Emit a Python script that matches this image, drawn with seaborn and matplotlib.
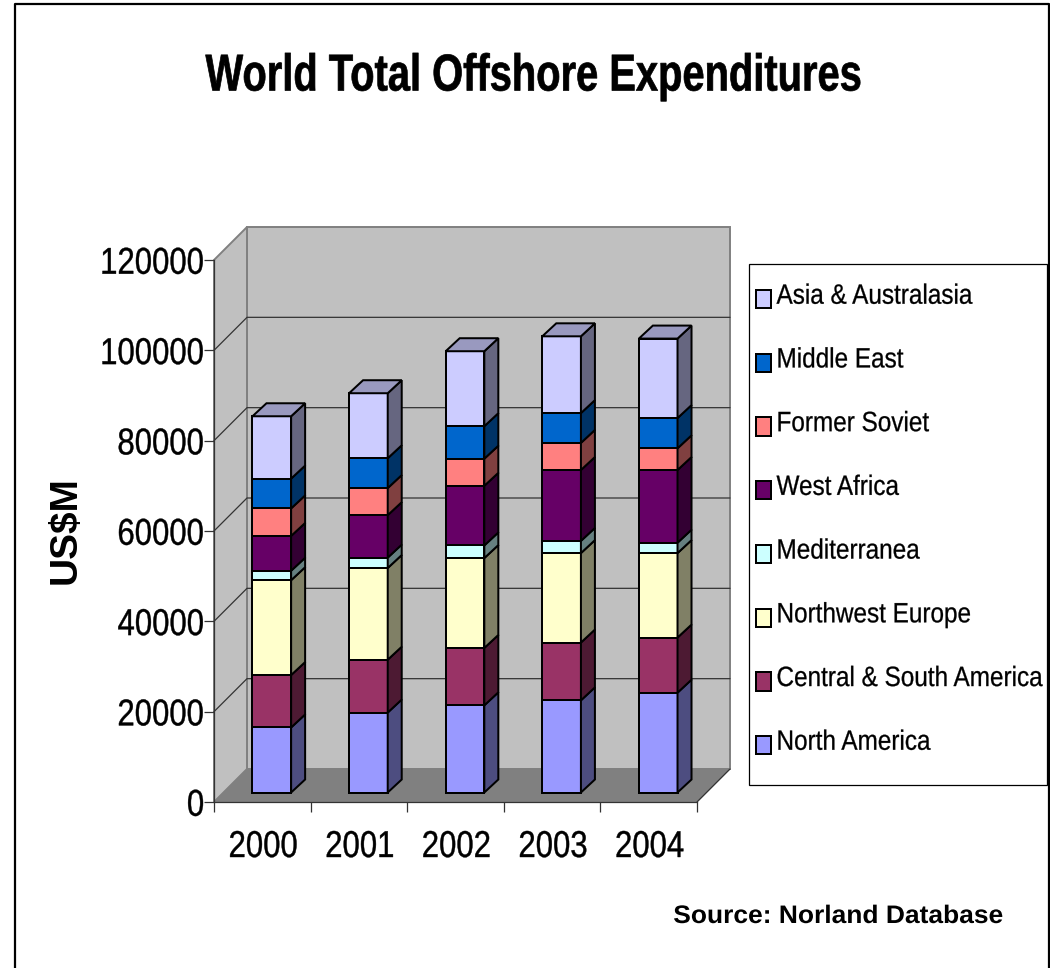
import matplotlib
matplotlib.use("Agg")
import matplotlib.pyplot as plt
import numpy as np
import pandas as pd
import seaborn as sns
from matplotlib.patches import Patch, Polygon, Rectangle
from matplotlib.lines import Line2D
from matplotlib.patheffects import AbstractPathEffect
from matplotlib.transforms import Affine2D, IdentityTransform

years = ["2000", "2001", "2002", "2003", "2004"]
north_america = [14400, 17700, 19300, 20400, 22100]
central_south_america = [11600, 11700, 12700, 12800, 12200]
northwest_europe = [21000, 20300, 19900, 19800, 18700]
mediterranea = [2100, 2300, 2800, 2700, 2300]
west_africa = [7700, 9400, 13200, 15700, 16100]
former_soviet = [6100, 6000, 6000, 6000, 4800]
middle_east = [6600, 6600, 7200, 6600, 6700]
asia_australasia = [13800, 14400, 16600, 17000, 17600]

series_names = ["North America", "Central & South America", "Northwest Europe",
                "Mediterranea", "West Africa", "Former Soviet", "Middle East",
                "Asia & Australasia"]
series_values = [north_america, central_south_america, northwest_europe,
                 mediterranea, west_africa, former_soviet, middle_east,
                 asia_australasia]
series_colors = ["#9999FF", "#993366", "#FFFFCC", "#CCFFFF",
                 "#660066", "#FF8080", "#0066CC", "#CCCCFF"]
y_ticks = [0, 20000, 40000, 60000, 80000, 100000, 120000]

W, H = 1050, 968
WALL_DEPTH = 33      # px offset of the back wall
BAR_INSET = 9.5      # px offset of the bar fronts from the front plane
BAR_DEPTH = (14, 13) # px extrusion of each bar
EDGE = 1.44


class TallText(AbstractPathEffect):
    """Stretch glyphs vertically, giving the tightly set, condensed look.

    Glyph paths use 100 units per em, so pivot and lift are given in em.
    """

    def __init__(self, stretch, pivot=0.0, lift=0.0, weight=0.0):
        super().__init__()
        self.stretch = stretch
        self.pivot = pivot * 100
        self.lift = lift * 100
        self.weight = weight

    def draw_path(self, renderer, gc, tpath, affine, rgbFace=None):
        local = (Affine2D().translate(0, -self.pivot).scale(1, self.stretch)
                 .translate(0, self.pivot + self.lift))
        gc0 = renderer.new_gc()
        gc0.copy_properties(gc)
        if self.weight:
            gc0.set_foreground(rgbFace)
            gc0.set_linewidth(self.weight)
        renderer.draw_path(gc0, tpath, local + affine, rgbFace)
        gc0.restore()


sns.set_theme(style="white", rc={"text.color": "black", "axes.labelcolor": "black",
                                 "xtick.color": "black", "ytick.color": "black"})
plt.rcParams["font.family"] = ["Liberation Sans", "DejaVu Sans"]

fig = plt.figure(figsize=(W / 100, H / 100), dpi=100, facecolor="white")
ax = fig.add_axes([214 / W, (H - 802) / H, (697 - 214) / W, (802 - 260) / H])
ax.set_facecolor("none")


def shade(color, factor):
    r, g, b = matplotlib.colors.to_rgb(color)
    return (r * factor, g * factor, b * factor)


# Stacked front faces
bottom = np.zeros(len(years))
frames = []
for name, vals in zip(series_names, series_values):
    frames.append(pd.DataFrame({"year": years, "value": vals}))
front_tr = ax.transData + Affine2D().translate(BAR_INSET, BAR_INSET)
for frame, color in zip(frames, series_colors):
    n_before = len(ax.patches)
    sns.barplot(data=frame, x="year", y="value", bottom=bottom, color=color,
                saturation=1, width=0.4, edgecolor="black", linewidth=EDGE,
                ax=ax, zorder=3)
    for patch in ax.patches[n_before:]:
        patch.set_transform(front_tr)
        patch.set_clip_on(False)
    bottom = bottom + frame["value"].to_numpy()

ax.set_xlim(-0.5, 4.5)
ax.set_ylim(0, 120000)
ax.set_xticks(np.arange(-0.5, 5, 1))
ax.set_xticklabels([])
ax.set_yticks(y_ticks)
ax.set_xlabel("")
ax.set_ylabel("")
ax.tick_params(axis="y", left=True, length=7, width=0.9, color="#333333",
               labelsize=22.4, pad=0, labelcolor="black")
ax.tick_params(axis="x", bottom=True, length=7, width=0.9, color="#333333")
for tick_label in ax.get_yticklabels():
    tick_label.set_path_effects([TallText(1.2, pivot=0.36, weight=0.3)])
for i, lbl in enumerate(years):
    ax.annotate(lbl, xy=(i, 0), xycoords="data", xytext=(1, -55),
                textcoords="offset pixels", ha="center", va="baseline",
                fontsize=22.4, annotation_clip=False,
                path_effects=[TallText(1.2, weight=0.3)])
for side in ("top", "right"):
    ax.spines[side].set_visible(False)
for side in ("left", "bottom"):
    ax.spines[side].set_linewidth(0.9)
    ax.spines[side].set_color("#333333")

fig.canvas.draw()

# Chart walls and floor, offset from the front plane by the depth
back_tr = ax.transData + Affine2D().translate(WALL_DEPTH, WALL_DEPTH)
to_front = ax.transData.transform
to_back = back_tr.transform
x0, x1 = -0.5, 4.5
ymax = y_ticks[-1]


def px_poly(points, **kw):
    ax.add_patch(Polygon(points, closed=True, transform=IdentityTransform(),
                         clip_on=False, **kw))


wall_grey, edge_grey = "#C0C0C0", "#808080"
px_poly(np.vstack([to_back([(x0, 0), (x1, 0), (x1, ymax), (x0, ymax)])]),
        facecolor=wall_grey, edgecolor=edge_grey, linewidth=1.4, zorder=0.5)
px_poly(np.vstack([to_front([(x0, 0), (x0, ymax)]), to_back([(x0, ymax), (x0, 0)])]),
        facecolor=wall_grey, edgecolor=edge_grey, linewidth=1.4, zorder=0.5)
px_poly(np.vstack([to_front([(x0, 0), (x1, 0)]), to_back([(x1, 0), (x0, 0)])]),
        facecolor=edge_grey, edgecolor=edge_grey, linewidth=0.5, zorder=0.6)

for v in y_ticks[1:-1]:
    f = to_front((x0, v))
    b0, b1 = to_back([(x0, v), (x1, v)])
    ax.add_line(Line2D([f[0], b0[0], b1[0]], [f[1], b0[1], b1[1]],
                       transform=IdentityTransform(), color="#333333",
                       lw=0.9, clip_on=False, zorder=0.7))
f = to_front((x1, 0))
b = to_back((x1, 0))
ax.add_line(Line2D([f[0], b[0]], [f[1], b[1]], transform=IdentityTransform(),
                   color="#333333", lw=0.9, clip_on=False, zorder=0.7))

# Extruded side and top faces of every bar segment
half = 0.2
bar_depth = np.array(BAR_DEPTH, dtype=float)
to_bar = front_tr.transform
base = np.zeros(len(years))
for vals, color in zip(series_values, series_colors):
    for i, v in enumerate(vals):
        p0, p1 = to_bar([(i + half, base[i]), (i + half, base[i] + v)])
        px_poly([p0, p1, p1 + bar_depth, p0 + bar_depth],
                facecolor=shade(color, 0.5), edgecolor="black",
                linewidth=EDGE, zorder=3)
    base = base + np.array(vals)
for i, total in enumerate(base):
    p0, p1 = to_bar([(i - half, total), (i + half, total)])
    px_poly([p0, p1, p1 + bar_depth, p0 + bar_depth],
            facecolor=shade(series_colors[-1], 0.75), edgecolor="black",
            linewidth=EDGE, zorder=3)

# Titles and notes
fig.text(533.5 / W, (H - 90.5) / H, "World Total Offshore Expenditures",
         fontsize=28.7, fontweight="bold", ha="center", va="baseline",
         path_effects=[TallText(1.3, weight=0.5)])
fig.text(66 / W, (H - 530) / H, "US$M", fontsize=28, fontweight="bold",
         rotation=90, ha="center", va="center")
fig.text(1003 / W, (H - 923) / H, "Source: Norland Database", fontsize=19,
         fontweight="bold", ha="right", va="baseline",
         path_effects=[TallText(0.96)])

# Legend box, newest series on top
fig.add_artist(Rectangle((748.5 / W, (H - 784.5) / H), 298.5 / W, 521 / H,
                         transform=fig.transFigure, facecolor="white",
                         edgecolor="black", linewidth=0.9))
handles = [Patch(facecolor=c, edgecolor="black", linewidth=EDGE, label=n)
           for n, c in zip(series_names[::-1], series_colors[::-1])]
FS = 17.5
px = FS * 100 / 72
leg = fig.legend(handles=handles, loc="upper left",
                 bbox_to_anchor=(755.5 / W, (H - 290) / H), frameon=False,
                 fontsize=FS, handlelength=15.5 / px, handleheight=19 / px,
                 handletextpad=5.5 / px, labelspacing=(64.2 - px * 0.95) / px,
                 borderpad=0, borderaxespad=0)
for leg_text in leg.get_texts():
    leg_text.set_path_effects([TallText(1.15, lift=0.16, weight=0.2)])

# Outer chart border
fig.add_artist(Line2D([14.5 / W, 14.5 / W, 1048.5 / W, 1048.5 / W],
                      [0, (H - 3.5) / H, (H - 3.5) / H, 0],
                      transform=fig.transFigure, color="black", lw=1.6))

fig.savefig("out.png", dpi=100, facecolor="white")
